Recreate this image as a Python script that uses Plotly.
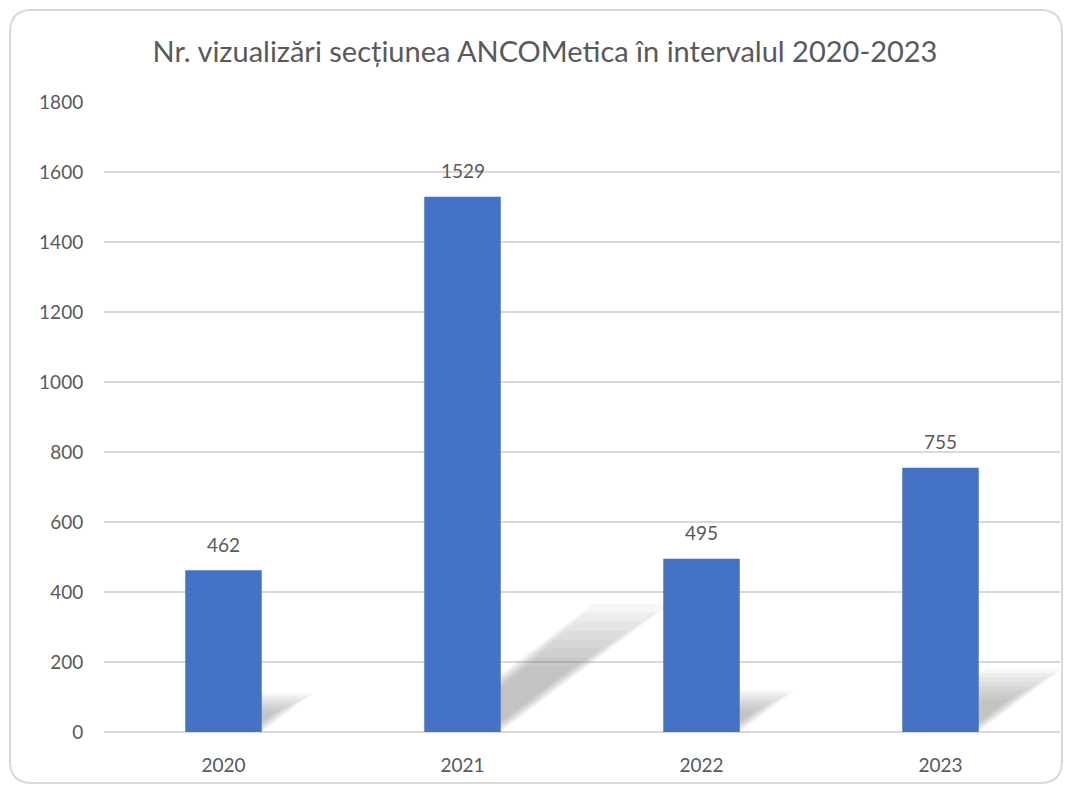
import plotly.graph_objects as go

categories = ["2020", "2021", "2022", "2023"]
views = [462, 1529, 495, 755]
y_ticks = [0, 200, 400, 600, 800, 1000, 1200, 1400, 1600, 1800]

# page body adds an 8px margin, so figure coordinates are screen - 8
W, H = 1055, 776
ML, MR, MT, MB = 96, 3, 94, 52
PW, PH = W - ML - MR, H - MT - MB
YMAX = 1800
BAR_HALF = 0.16
FONT = "Lato"
GREY = "#595959"

fig = go.Figure()
fig.add_trace(go.Bar(
    x=list(range(len(categories))), y=views,
    marker=dict(color="#4472C4", line=dict(width=0)),
    width=2 * BAR_HALF, hoverinfo="skip",
))

annotations = [dict(x=i, y=v, xref="x", yref="y", text=str(v), showarrow=False,
                    yshift=26, font=dict(family=FONT, size=19, color=GREY))
               for i, v in enumerate(views)]

shapes = []
# soft perspective shadows behind bars
px_per_unit_y = PH / YMAX
px_per_cat = PW / len(categories)
n_layers = 8
for i, v in enumerate(views):
    h = 0.24 * v
    for k in range(n_layers):
        scale = 1.0 - k * 0.07
        hh = h * scale
        dx = 1.32 * hh * px_per_unit_y / px_per_cat
        x0 = i - BAR_HALF + 0.01 * k
        x1 = i + BAR_HALF - 0.008 * k
        path = (f"M {x0},0 L {x1},0 L {x1 + dx},{hh} "
                f"L {x0 + dx},{hh} Z")
        shapes.append(dict(type="path", xref="x", yref="y", path=path,
                           fillcolor="#7a7a7a", opacity=0.065, line=dict(width=0),
                           layer="between"))

# rounded chart border
def px_x(p):
    return (p - ML) / PW

def px_y(p):
    return (H - MB - p) / PH

L, R, T, B, r = 2, 1054, 2, 775, 22
x0, x1, y0, y1 = px_x(L), px_x(R), px_y(T), px_y(B)
rx, ry = r / PW, r / PH
border = (f"M {x0 + rx},{y0} L {x1 - rx},{y0} Q {x1},{y0} {x1},{y0 - ry} "
          f"L {x1},{y1 + ry} Q {x1},{y1} {x1 - rx},{y1} "
          f"L {x0 + rx},{y1} Q {x0},{y1} {x0},{y1 + ry} "
          f"L {x0},{y0 - ry} Q {x0},{y0} {x0 + rx},{y0} Z")
shapes.append(dict(type="path", xref="paper", yref="paper", path=border,
                   line=dict(color="#d9d9d9", width=2), layer="below"))

fig.update_layout(
    width=W, height=H,
    margin=dict(l=ML, r=MR, t=MT, b=MB),
    paper_bgcolor="white", plot_bgcolor="white",
    showlegend=False, bargap=0.68,
    shapes=shapes, annotations=annotations,
    title=dict(text="Nr. vizualizări secțiunea ANCOMetica în intervalul 2020-2023",
               x=0.509, xanchor="center", y=0.944, yanchor="middle",
               xref="container", yref="container",
               font=dict(family=FONT, size=29, color=GREY)),
    xaxis=dict(tickmode="array", tickvals=list(range(len(categories))),
               ticktext=categories, range=[-0.5, len(categories) - 0.5],
               showgrid=False, zeroline=False, showline=False,
               ticks="outside", ticklen=16, tickcolor="rgba(0,0,0,0)",
               tickfont=dict(family=FONT, size=19, color=GREY)),
    yaxis=dict(range=[0, YMAX], tickmode="array", tickvals=y_ticks,
               showgrid=True, gridcolor="#d9d9d9", gridwidth=1.5,
               zeroline=True, zerolinecolor="#d9d9d9", zerolinewidth=1.5,
               showline=False, ticks="outside", ticklen=16,
               tickcolor="rgba(0,0,0,0)",
               tickfont=dict(family=FONT, size=19, color=GREY)),
)

fig.write_html("out.html")
